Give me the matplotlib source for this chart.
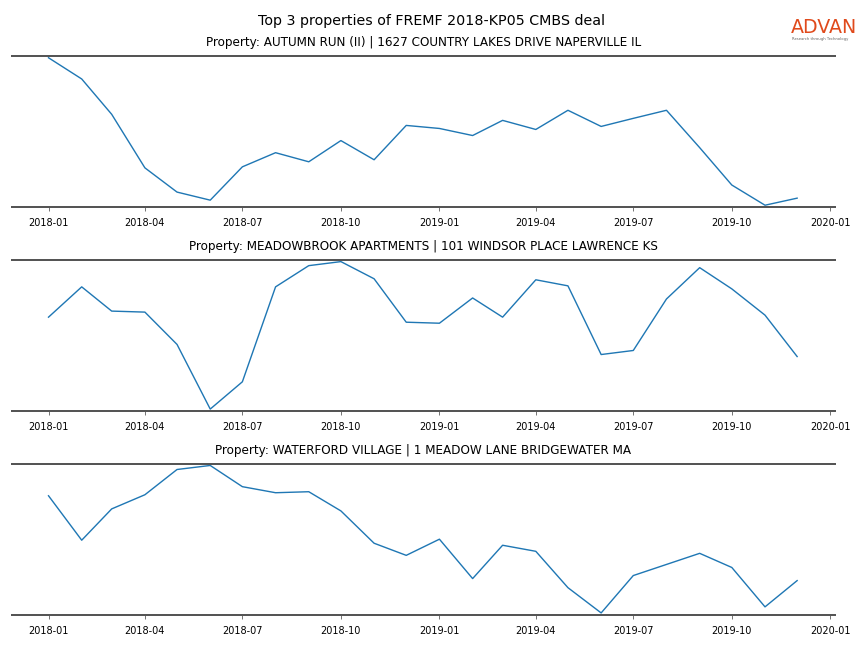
import pandas as pd
import matplotlib
matplotlib.use('Agg')
import matplotlib.pyplot as plt
import matplotlib.dates as mdates

# Monthly visits per property (arbitrary units)
months = pd.date_range('2018-01-01', periods=24, freq='MS')

titles = ['Property: AUTUMN RUN (II) | 1627 COUNTRY LAKES DRIVE NAPERVILLE IL',
          'Property: MEADOWBROOK APARTMENTS | 101 WINDSOR PLACE LAWRENCE KS',
          'Property: WATERFORD VILLAGE | 1 MEADOW LANE BRIDGEWATER MA']

autumn_run = [148, 127, 92, 39, 15, 7, 40, 54, 45, 66, 47, 81,
              78, 71, 86, 77, 96, 80, 88, 96, 59, 22, 2, 9]
meadowbrook = [93, 123, 99, 98, 66, 2, 29, 123, 144, 148, 131, 88,
               87, 112, 93, 130, 124, 56, 60, 111, 142, 121, 95, 54]
waterford = [118, 74, 105, 119, 144, 148, 127, 121, 122, 103, 71, 59,
             75, 36, 69, 63, 27, 2, 39, 50, 61, 47, 8, 34]

series = [autumn_run, meadowbrook, waterford]

fig, axarr = plt.subplots(3, 1, figsize=(12, 9), dpi=72)
fig.subplots_adjust(left=0.014, right=0.966, top=0.9136, bottom=0.0514, hspace=0.35)

for ax, title, vals in zip(axarr, titles, series):
    ax.plot(months, vals, color='#1f77b4', linewidth=1.4)
    ax.set_title(title, fontsize=12, pad=10)
    ax.margins(y=0.012)
    ax.set_xlim(pd.Timestamp('2017-11-28'), pd.Timestamp('2020-01-05'))
    ax.xaxis.set_major_locator(mdates.MonthLocator(bymonth=[1, 4, 7, 10]))
    ax.xaxis.set_major_formatter(mdates.DateFormatter('%Y-%m'))
    ax.tick_params(axis='x', labelsize=9.7, length=4, width=0.8, color='#555555', pad=7)
    ax.set_yticks([])
    ax.spines['left'].set_visible(False)
    ax.spines['right'].set_visible(False)
    for s in ['top', 'bottom']:
        ax.spines[s].set_color('#555555')
        ax.spines[s].set_linewidth(2)

fig.suptitle('Top 3 properties of FREMF 2018-KP05 CMBS deal', fontsize=14.3, y=0.978)

# logo
fig.text(0.9155, 0.958, 'ADVAN', color='#e04a1c', fontsize=19, ha='left', va='center')
fig.text(0.9165, 0.940, 'Research through Technology', color='#666666', fontsize=3.8,
         ha='left', va='center')

plt.savefig('out.png', dpi=72)
